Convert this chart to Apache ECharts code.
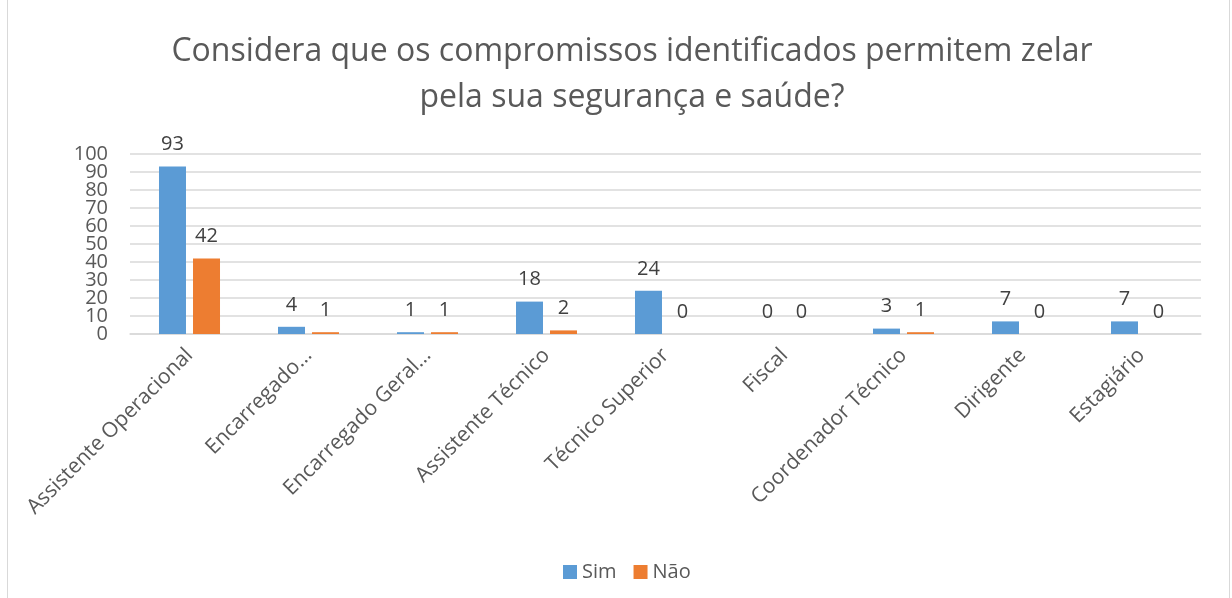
<!DOCTYPE html>
<html>
<head>
<meta charset="utf-8">
<script src="https://cdn.jsdelivr.net/npm/echarts@6/dist/echarts.min.js"></script>
<style>
  html, body { margin: 0; padding: 0; background: #fff; }
  #frame { position: absolute; left: 7px; top: -1px; width: 1223px; height: 600px; border: 1px solid #d9d9d9; box-sizing: border-box; }
  #chart { position: absolute; left: 0; top: 0; width: 1232px; height: 598px; }
</style>
</head>
<body>
<div id="frame"></div>
<div id="chart"></div>
<script>
// categorias (tal como aparecem no gráfico)
const categories = [
  "Assistente Operacional", "Encarregado…", "Encarregado Geral…", "Assistente Técnico",
  "Técnico Superior", "Fiscal", "Coordenador Técnico", "Dirigente", "Estagiário"
];
const simValues = [93, 4, 1, 18, 24, 0, 3, 7, 7];
const naoValues = [42, 1, 1, 2, 0, 0, 1, 0, 0];
const yTicks = { min: 0, max: 100, interval: 10 };

const font = "'Open Sans', 'Noto Sans', sans-serif";
const chart = echarts.init(document.getElementById("chart"), null, { renderer: "canvas" });

const labelStyle = {
  show: true,
  position: "top",
  distance: 12,
  color: "#404040",
  fontSize: 20,
  fontFamily: font
};

// os rótulos do eixo y ficam muito juntos: metade num eixo, metade noutro,
// para o ECharts não esconder nenhum
function yAxisFor(even) {
  return {
    type: "value",
    position: "left",
    min: yTicks.min,
    max: yTicks.max,
    interval: yTicks.interval,
    axisLine: { show: false },
    axisTick: { show: false },
    splitLine: { show: even, lineStyle: { color: "#d9d9d9", width: 1.5 } },
    axisLabel: {
      color: "#595959",
      fontSize: 20,
      fontFamily: font,
      margin: 22,
      showMinLabel: true,
      showMaxLabel: true,
      formatter: v => ((v / yTicks.interval) % 2 === 0) === even ? String(v) : ""
    }
  };
}

chart.setOption({
  animation: false,
  color: ["#5b9bd5", "#ed7d31"],
  title: {
    text: "Considera que os compromissos identificados permitem zelar\npela sua segurança e saúde?",
    left: 627,
    textAlign: "center",
    top: 24,
    textStyle: {
      color: "#595959",
      fontSize: 32,
      fontWeight: "normal",
      fontFamily: font,
      lineHeight: 46
    }
  },
  legend: {
    data: ["Sim", "Não"],
    top: 557,
    left: 558,
    icon: "rect",
    itemWidth: 14,
    itemHeight: 14,
    itemGap: 17,
    textStyle: { color: "#595959", fontSize: 20, fontFamily: font }
  },
  grid: { left: 130, right: 31, top: 154, bottom: 264 },
  xAxis: {
    type: "category",
    data: categories,
    axisLine: { lineStyle: { color: "#d9d9d9", width: 1.5 } },
    axisTick: { show: false },
    axisLabel: {
      interval: 0,
      rotate: 45,
      margin: 18,
      color: "#595959",
      fontSize: 21,
      fontFamily: font
    }
  },
  yAxis: [yAxisFor(true), yAxisFor(false)],
  series: [
    {
      name: "Sim",
      type: "bar",
      data: simValues,
      barWidth: 27,
      barGap: "26%",
      label: labelStyle
    },
    {
      name: "Não",
      type: "bar",
      data: naoValues,
      barWidth: 27,
      label: labelStyle
    }
  ]
});
</script>
</body>
</html>
